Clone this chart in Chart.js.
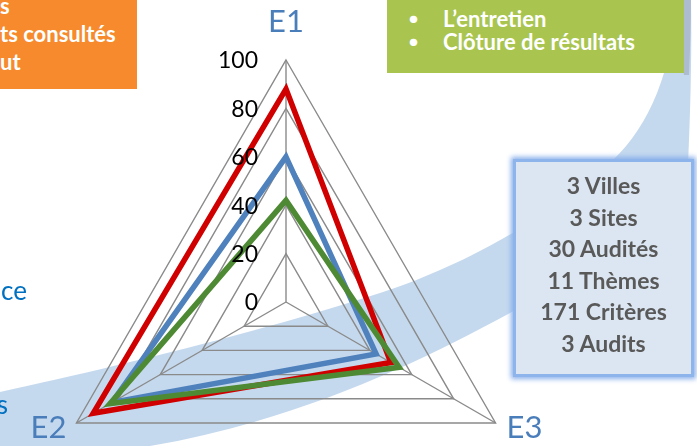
<!DOCTYPE html>
<html>
<head>
<meta charset="utf-8">
<script src="https://cdn.jsdelivr.net/npm/chart.js@4/dist/chart.umd.min.js"></script>
<style>
html, body { margin: 0; padding: 0; width: 697px; height: 446px; overflow: hidden; background: #fff; font-family: Lato, sans-serif; }
#swoosh { position: absolute; left: 0; top: 0; }
#chart { position: absolute; left: 0; top: 0; }
.orange { position: absolute; left: 0; top: 0; width: 137px; height: 89px; background: #F68A2C; overflow: hidden; }
.green { position: absolute; left: 387px; top: 0; width: 297px; height: 73px; background: #A9C54F; overflow: hidden; }
.txt { position: absolute; color: #fff; font-weight: bold; font-size: 22px; line-height: 28px; white-space: nowrap; }
.bul { font-size: 15px; }
.bluebox { position: absolute; left: 513px; top: 159px; width: 181px; height: 218px; box-sizing: border-box;
  background: #DCE6F2; border: 3px solid #8EB4EC; box-shadow: 0 0 5px 2px #8AB0EA; padding-top: 8px;
  color: #595959; font-weight: bold; font-size: 23px; line-height: 31.6px; text-align: center; }
.side { position: absolute; color: #0070C0; font-size: 26px; line-height: 32px; text-align: right; white-space: nowrap; }
</style>
</head>
<body>
<svg id="swoosh" width="697" height="446">
  <path d="M0,392 C100,370 250,335 380,293 C470,264 560,210 613,160 C650,125 672,70 677,0 L691,0 C692,60 690,120 688,165 L560,285 L510,313 C420,362 300,420 150,446 L0,446 Z" fill="#C5D9EE"/>
  <path d="M677,0 C676,30 680,55 684,75 L689,75 C690,50 691,25 691,0 Z" fill="#AEBCD0"/>
</svg>
<canvas id="chart" width="697" height="600"></canvas>

<div class="orange">
  <div class="txt" style="left:0;top:-8px">s</div>
  <div class="txt" style="left:0;top:20px">ts consultés</div>
  <div class="txt" style="left:0;top:48px">ut</div>
</div>
<div class="green">
  <div class="txt bul" style="left:22px;top:7px;line-height:23px">●</div>
  <div class="txt" style="left:56px;top:7px;line-height:23px">L’entretien</div>
  <div class="txt bul" style="left:22px;top:30px;line-height:23px">●</div>
  <div class="txt" style="left:56px;top:30px;line-height:23px">Clôture de résultats</div>
</div>
<div class="bluebox">
  <div>3 Villes</div>
  <div>3 Sites</div>
  <div>30 Audités</div>
  <div>11 Thèmes</div>
  <div>171 Critères</div>
  <div>3 Audits</div>
</div>
<div class="side" style="right:670px;top:274px">ce</div>
<div class="side" style="right:689px;top:388px">s</div>

<script>
const axes = ['E1', 'E2', 'E3'];
const redSeries = [88, 92, 50];
const blueSeries = [60, 83, 43];
const greenSeries = [42, 84, 54];
const tickLabels = ['0', '20', '40', '60', '80', '100'];

// Chart.js turns clockwise, the reference goes E1 -> E2 (bottom left) -> E3 (bottom right)
const turn = [0, 2, 1];
const chartLabels = turn.map(i => axes[i]);
const inTurn = arr => turn.map(i => arr[i]);

// draws tick numbers left of the E1 spoke and the axis names
const labelPlugin = {
    id: 'radarLabels',
    afterDraw(chart) {
        const s = chart.scales.r;
        const ctx = chart.ctx;
        ctx.save();
        ctx.font = '23px Lato';
        ctx.fillStyle = '#000';
        ctx.textAlign = 'right';
        ctx.textBaseline = 'middle';
        s.ticks.forEach((t, i) => {
            const d = s.getDistanceFromCenterForValue(t.value);
            ctx.fillText(tickLabels[i], s.xCenter - 28, s.yCenter - d + 1);
        });

        ctx.font = '31px Lato';
        ctx.fillStyle = '#4A7EBB';
        const p0 = s.getPointPosition(0, s.drawingArea);
        ctx.textAlign = 'center';
        ctx.fillText(chartLabels[0], p0.x, p0.y - 38);
        const p1 = s.getPointPosition(1, s.drawingArea);
        ctx.textAlign = 'left';
        ctx.fillText(chartLabels[1], p1.x + 11, p1.y + 5);
        const p2 = s.getPointPosition(2, s.drawingArea);
        ctx.textAlign = 'right';
        ctx.fillText(chartLabels[2], p2.x - 10, p2.y + 5);
        ctx.restore();
    }
};

function lineSet(label, data, color, order) {
    return {
        label: label,
        data: inTurn(data),
        borderColor: color,
        backgroundColor: 'transparent',
        borderWidth: 5.5,
        borderJoinStyle: 'miter',
        pointRadius: 0,
        fill: false,
        order: order
    };
}

function draw() {
    new Chart(document.getElementById('chart'), {
        type: 'radar',
        data: {
            labels: chartLabels,
            datasets: [
                lineSet('Série 1', redSeries, '#D00000', 3),
                lineSet('Série 2', blueSeries, '#4F81BD', 2),
                lineSet('Série 3', greenSeries, '#4E8A33', 1)
            ]
        },
        options: {
            responsive: false,
            animation: false,
            layout: { padding: { left: 44, top: 60, right: 169, bottom: 56 } },
            scales: {
                r: {
                    min: 0,
                    max: 100,
                    ticks: { stepSize: 20, display: false },
                    grid: { color: '#8A8A8A', lineWidth: 1.4 },
                    angleLines: { color: '#8A8A8A', lineWidth: 1.4 },
                    pointLabels: { display: false }
                }
            },
            plugins: {
                legend: { display: false },
                tooltip: { enabled: false }
            }
        },
        plugins: [labelPlugin]
    });
}

document.fonts.load('23px Lato').then(draw, draw);
</script>
</body>
</html>
